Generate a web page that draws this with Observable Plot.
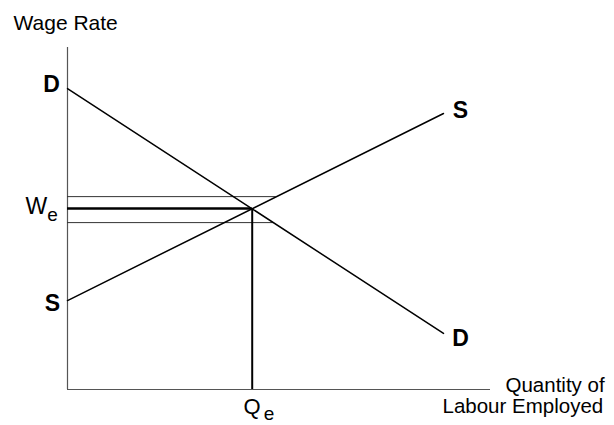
<!DOCTYPE html>
<html>
<head>
<meta charset="utf-8">
<script src="https://cdn.jsdelivr.net/npm/d3@7"></script>
<script src="https://cdn.jsdelivr.net/npm/@observablehq/plot@0.6"></script>
<style>
  html, body { margin: 0; padding: 0; background: #fff; }
  svg { display: block; }
</style>
</head>
<body>
<div id="chart"></div>
<script>
// Data (quantity of labour, wage rate) in arbitrary units
const demand = [ {q: 0, w: 8.8}, {q: 8, w: 1.64} ];
const supply = [ {q: 0, w: 2.6}, {q: 8, w: 8.07} ];
const qe = 3.93;
const we = 5.29;
const wageAbove = 5.64;   // upper guide line, runs to the supply curve
const wageBelow = 4.88;   // lower guide line, runs to the demand curve
const qAbove = 4.44;      // supply at wageAbove
const qBelow = 4.38;      // demand at wageBelow
const axisX = [0, 9];
const axisY = [0, 10];
const subscriptLabels = [{main: "W", sub: "e"}, {main: "Q", sub: "e"}];

const font = "Liberation Sans, Arial, Helvetica, sans-serif";

const chart = Plot.plot({
  width: 614,
  height: 425,
  marginLeft: 67,
  marginRight: 124,
  marginTop: 47,
  marginBottom: 36,
  x: {domain: axisX, axis: null},
  y: {domain: axisY, axis: null},
  style: {fontFamily: font, background: "#fff", color: "#000"},
  marks: [
    // axes
    Plot.ruleX([axisX[0]], {y1: axisY[0], y2: axisY[1], stroke: "#555", strokeWidth: 1.2}),
    Plot.ruleY([axisY[0]], {x1: axisX[0], x2: axisX[1], stroke: "#555", strokeWidth: 1.2}),
    // guide lines
    Plot.ruleY([{w: wageAbove, q: qAbove}], {y: "w", x1: 0, x2: "q", stroke: "#333", strokeWidth: 1}),
    Plot.ruleY([{w: wageBelow, q: qBelow}], {y: "w", x1: 0, x2: "q", stroke: "#333", strokeWidth: 1}),
    Plot.ruleY([{w: we, q: qe}], {y: "w", x1: 0, x2: "q", stroke: "#000", strokeWidth: 2.5}),
    Plot.ruleX([{w: we, q: qe}], {x: "q", y1: 0, y2: "w", stroke: "#000", strokeWidth: 2}),
    // curves
    Plot.line(demand, {x: "q", y: "w", stroke: "#000", strokeWidth: 1.5}),
    Plot.line(supply, {x: "q", y: "w", stroke: "#000", strokeWidth: 1.5}),
    // curve labels
    Plot.text([demand[0]], {x: "q", y: "w", text: () => "D", dx: -16, dy: -4, fontSize: 23, fontWeight: "bold", textAnchor: "middle", lineAnchor: "middle"}),
    Plot.text([demand[1]], {x: "q", y: "w", text: () => "D", dx: 17, dy: 5, fontSize: 23, fontWeight: "bold", textAnchor: "middle", lineAnchor: "middle"}),
    Plot.text([supply[0]], {x: "q", y: "w", text: () => "S", dx: -15, dy: 3, fontSize: 23, fontWeight: "bold", textAnchor: "middle", lineAnchor: "middle"}),
    Plot.text([supply[1]], {x: "q", y: "w", text: () => "S", dx: 17, dy: -3, fontSize: 23, fontWeight: "bold", textAnchor: "middle", lineAnchor: "middle"}),
    // equilibrium labels (subscript added below)
    Plot.text([we], {x: 0, y: d => d, text: () => subscriptLabels[0].main, dx: -42, dy: 5, fontSize: 23, textAnchor: "start", lineAnchor: "bottom"}),
    Plot.text([qe], {x: d => d, y: 0, text: () => subscriptLabels[1].main, dx: -8.6, dy: 24, fontSize: 22, textAnchor: "start", lineAnchor: "bottom"}),
    // axis titles
    Plot.text(["Wage Rate"], {x: axisX[0], y: axisY[1], text: d => d, dx: -54, dy: -18, fontSize: 21, textAnchor: "start", lineAnchor: "bottom"}),
    Plot.text(["Quantity of"], {x: axisX[1], y: axisY[0], text: d => d, dx: 15, dy: 2, fontSize: 20.5, textAnchor: "start", lineAnchor: "bottom"}),
    Plot.text(["Labour Employed"], {x: axisX[1], y: axisY[0], text: d => d, dx: -48, dy: 23, fontSize: 20.5, textAnchor: "start", lineAnchor: "bottom"})
  ]
});

// add the subscript "e" as a tspan of its label so each label stays one text
d3.select(chart).selectAll("text").each(function () {
  const t = this.textContent;
  if (t === "W") {
    d3.select(this).append("tspan").attr("dx", 0).attr("dy", 7).attr("font-size", 19).text(subscriptLabels[0].sub);
  } else if (t === "Q") {
    d3.select(this).append("tspan").attr("dx", 3).attr("dy", 6).attr("font-size", 19).text(subscriptLabels[1].sub);
  }
});

document.getElementById("chart").appendChild(chart);
</script>
</body>
</html>
